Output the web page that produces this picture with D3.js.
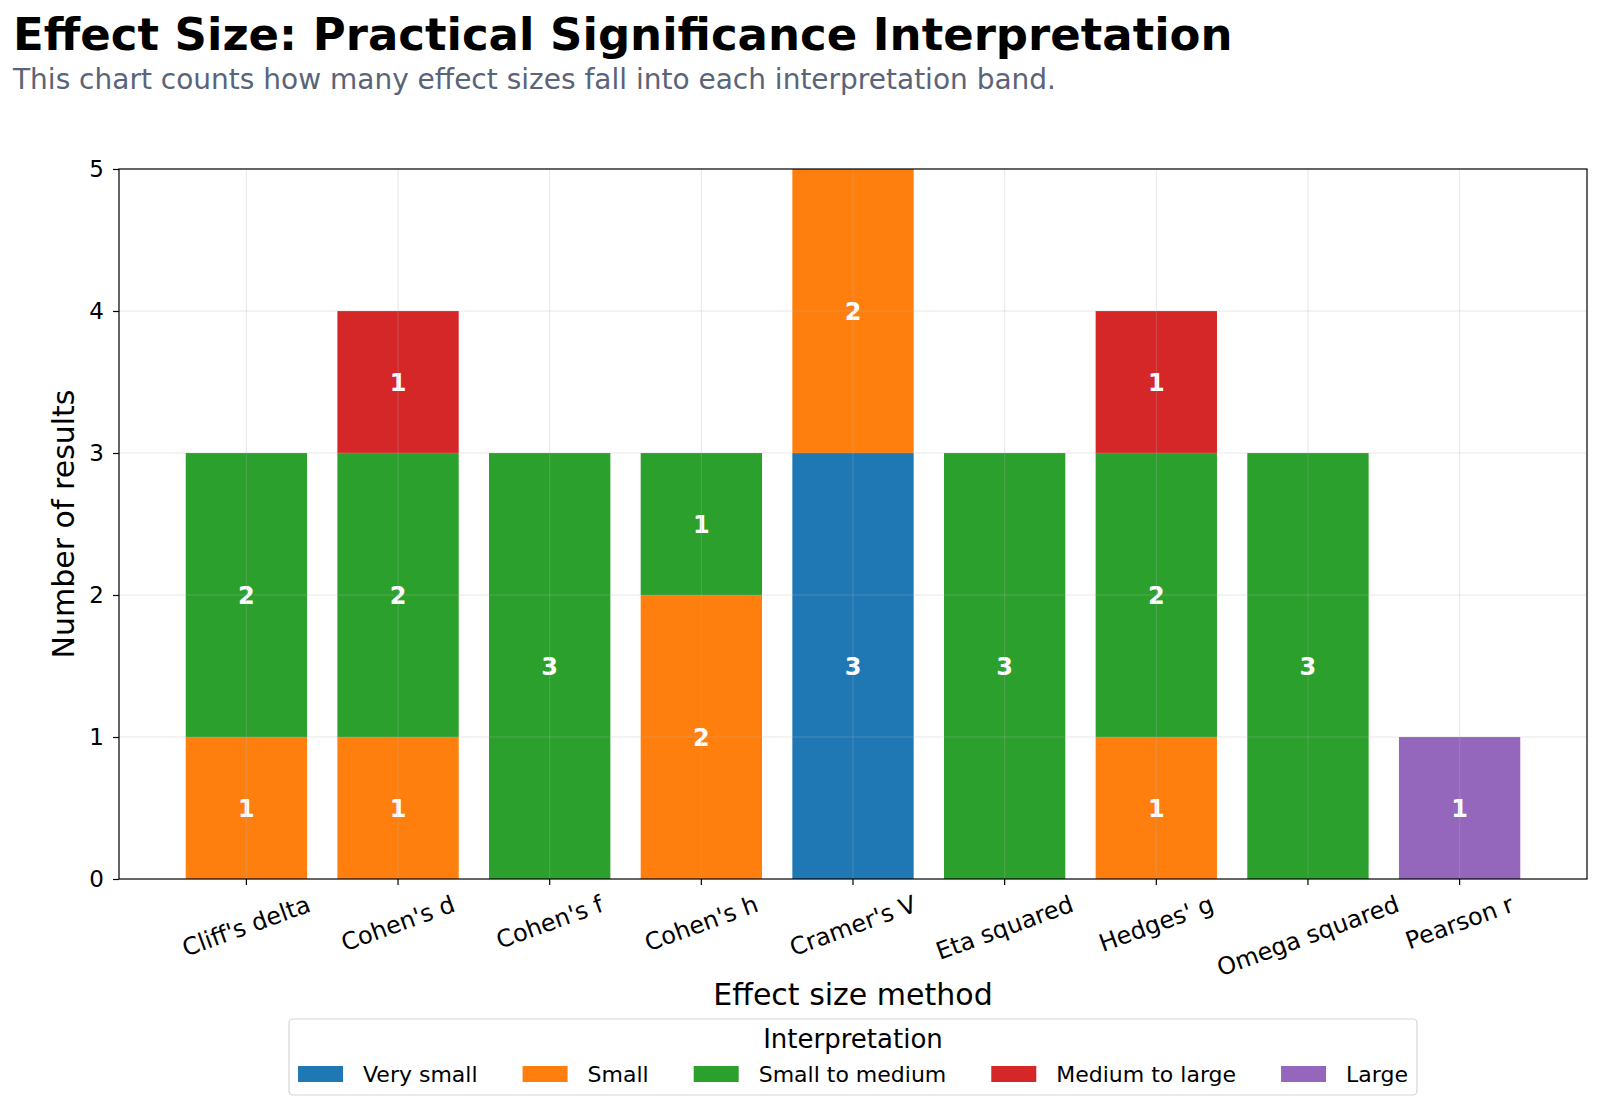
<!DOCTYPE html>
<html>
<head>
<meta charset="utf-8">
<script src="https://cdn.jsdelivr.net/npm/d3@7"></script>
<style>
  body { margin: 0; background: #fff; }
  text { font-family: "DejaVu Sans", sans-serif; }
</style>
</head>
<body>
<div id="chart"></div>
<script>
// chart data
var methods = ["Cliff's delta", "Cohen's d", "Cohen's f", "Cohen's h", "Cramer's V",
               "Eta squared", "Hedges' g", "Omega squared", "Pearson r"];
var bands = ["Very small", "Small", "Small to medium", "Medium to large", "Large"];
var bandColors = ["#1f77b4", "#ff7f0e", "#2ca02c", "#d62728", "#9467bd"];
// counts per band, one value per method
var verySmall     = [0, 0, 0, 0, 3, 0, 0, 0, 0];
var small         = [1, 1, 0, 2, 2, 0, 1, 0, 0];
var smallToMedium = [2, 2, 3, 1, 0, 3, 2, 3, 0];
var mediumToLarge = [0, 1, 0, 0, 0, 0, 1, 0, 0];
var large         = [0, 0, 0, 0, 0, 0, 0, 0, 1];
var yTicks = [0, 1, 2, 3, 4, 5];

var W = 1600, H = 1109;
var margin = {top: 169, right: 13, bottom: 230, left: 119};
var width = W - margin.left - margin.right;
var height = H - margin.top - margin.bottom;

var svg = d3.select("#chart").append("svg")
    .attr("width", W)
    .attr("height", H);

svg.append("text")
    .attr("x", 13).attr("y", 50)
    .attr("font-size", "45px")
    .attr("font-weight", "bold")
    .attr("fill", "#000")
    .text("Effect Size: Practical Significance Interpretation");

svg.append("text")
    .attr("x", 13).attr("y", 89)
    .attr("font-size", "28px")
    .attr("fill", "#5a6478")
    .text("This chart counts how many effect sizes fall into each interpretation band.");

var g = svg.append("g")
    .attr("transform", "translate(" + margin.left + "," + margin.top + ")");

var table = methods.map(function(m, i) {
    return {method: m, "Very small": verySmall[i], "Small": small[i],
            "Small to medium": smallToMedium[i], "Medium to large": mediumToLarge[i],
            "Large": large[i]};
});
var stacked = d3.stack().keys(bands)(table);

var x = d3.scaleBand().domain(methods).range([0, width])
    .paddingInner(0.2).paddingOuter(0.44);
var y = d3.scaleLinear().domain([0, 5]).range([height, 0]);
var color = d3.scaleOrdinal().domain(bands).range(bandColors);

// bars
var layers = g.selectAll(".layer").data(stacked).enter().append("g")
    .attr("class", "layer")
    .attr("fill", function(d) { return color(d.key); });

layers.selectAll("rect")
    .data(function(d) { return d.filter(function(s) { return s[1] - s[0] > 0; }); })
    .enter().append("rect")
    .attr("x", function(d) { return x(d.data.method); })
    .attr("y", function(d) { return y(d[1]); })
    .attr("width", x.bandwidth())
    .attr("height", function(d) { return y(d[0]) - y(d[1]); });

// grid over bars
g.append("g").selectAll("line").data(yTicks.slice(1, 5)).enter().append("line")
    .attr("x1", 0).attr("x2", width)
    .attr("y1", function(d) { return y(d); }).attr("y2", function(d) { return y(d); })
    .attr("stroke", "#b0b0b0").attr("stroke-opacity", 0.3).attr("stroke-width", 1);
g.append("g").selectAll("line").data(methods).enter().append("line")
    .attr("y1", 0).attr("y2", height)
    .attr("x1", function(d) { return x(d) + x.bandwidth() / 2; })
    .attr("x2", function(d) { return x(d) + x.bandwidth() / 2; })
    .attr("stroke", "#b0b0b0").attr("stroke-opacity", 0.3).attr("stroke-width", 1);

// value labels
layers.selectAll("text.val")
    .data(function(d) { return d.filter(function(s) { return s[1] - s[0] > 0; }); })
    .enter().append("text")
    .attr("class", "val")
    .attr("x", function(d) { return x(d.data.method) + x.bandwidth() / 2; })
    .attr("y", function(d) { return y((d[0] + d[1]) / 2); })
    .attr("dy", "0.36em")
    .attr("text-anchor", "middle")
    .attr("font-size", "24px")
    .attr("font-weight", "bold")
    .attr("fill", "#fff")
    .text(function(d) { return d[1] - d[0]; });

// axes
var yAxis = g.append("g")
    .call(d3.axisLeft(y).tickValues(yTicks).tickFormat(d3.format("d")).tickSize(6).tickPadding(9));
yAxis.selectAll("text").attr("font-size", "23px").attr("fill", "#000");

var xAxis = g.append("g")
    .attr("transform", "translate(0," + height + ")")
    .call(d3.axisBottom(x).tickSize(6).tickPadding(8));
xAxis.selectAll("text").remove();
g.selectAll(".domain").remove();
g.selectAll(".tick line").attr("stroke", "#000").attr("stroke-width", 1.2);

// rotated tick labels, centred under each tick
var rot = 20 * Math.PI / 180;
methods.forEach(function(m) {
    var cx = x(m) + x.bandwidth() / 2;
    var t = g.append("text")
        .attr("font-size", "24px")
        .attr("text-anchor", "middle")
        .attr("dominant-baseline", "central")
        .attr("fill", "#000")
        .text(m);
    var w = t.node().getComputedTextLength();
    var h = 22;
    var bh = w * Math.sin(rot) + h * Math.cos(rot);
    var cy = height + 14 + bh / 2;
    t.attr("transform", "translate(" + cx + "," + cy + ") rotate(-20)");
});

// frame
g.append("rect")
    .attr("width", width).attr("height", height)
    .attr("fill", "none").attr("stroke", "#000").attr("stroke-width", 1.2);

// axis labels
g.append("text")
    .attr("transform", "rotate(-90)")
    .attr("x", -height / 2).attr("y", -45)
    .attr("text-anchor", "middle")
    .attr("font-size", "30px")
    .attr("fill", "#000")
    .text("Number of results");

svg.append("text")
    .attr("x", margin.left + width / 2).attr("y", 1005)
    .attr("text-anchor", "middle")
    .attr("font-size", "30px")
    .attr("fill", "#000")
    .text("Effect size method");

// legend
var legend = svg.append("g");
var box = legend.append("rect")
    .attr("rx", 4)
    .attr("fill", "#fff").attr("stroke", "#d5d5d5").attr("stroke-width", 1.2);
legend.append("text")
    .attr("x", margin.left + width / 2).attr("y", 1048)
    .attr("text-anchor", "middle")
    .attr("font-size", "26px")
    .attr("fill", "#000")
    .text("Interpretation");

var swW = 45, swH = 16, pad = 20, colGap = 45;
var items = legend.selectAll(".item").data(bands).enter().append("g").attr("class", "item");
items.append("rect")
    .attr("width", swW).attr("height", swH)
    .attr("y", 1066)
    .attr("fill", function(d) { return color(d); });
items.append("text")
    .attr("x", swW + pad).attr("y", 1082)
    .attr("font-size", "22px")
    .attr("fill", "#000")
    .text(function(d) { return d; });
var widths = [];
items.each(function() { widths.push(swW + pad + d3.select(this).select("text").node().getComputedTextLength()); });
var total = d3.sum(widths) + colGap * (bands.length - 1);
var startX = margin.left + width / 2 - total / 2;
var cur = startX;
items.attr("transform", function(d, i) { var tx = cur; cur += widths[i] + colGap; return "translate(" + tx + ",0)"; });
box.attr("x", startX - 9).attr("y", 1019).attr("width", total + 18).attr("height", 76);
</script>
</body>
</html>
